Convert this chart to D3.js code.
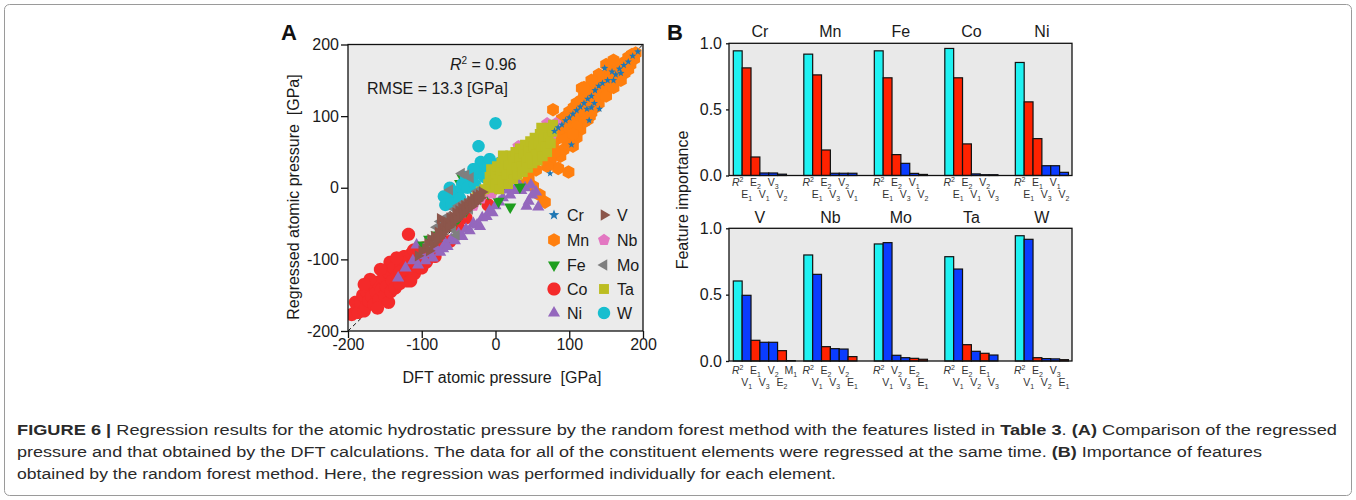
<!DOCTYPE html>
<html><head><meta charset="utf-8">
<script src="https://cdn.jsdelivr.net/npm/d3@7"></script>
<style>
html,body{margin:0;padding:0;background:#fff;}
svg{display:block;font-family:"Liberation Sans",Arial,Helvetica,sans-serif;}
</style></head>
<body>
<svg id="fig" width="1356" height="500"></svg>
<script>
// ---------------- Panel A data: [DFT pressure, regressed pressure] (GPa) -------------
const elementsA = ["Cr","Mn","Fe","Co","Ni","V","Nb","Mo","Ta","W"];
const ptsCo = [[-195,-177],[-190,-160],[-188,-170],[-186,-174],[-183,-160],[-180,-150],[-178,-172],[-176,-166],[-175,-145],[-172,-158],[-170,-140],[-168,-152],[-165,-163],[-162,-146],[-160,-132],[-158,-156],[-155,-142],[-152,-126],[-150,-150],[-148,-138],[-146,-118],[-145,-160],[-143,-104],[-142,-145],[-140,-130],[-138,-112],[-136,-140],[-133,-122],[-130,-134],[-128,-108],[-126,-126],[-124,-96],[-122,-115],[-120,-130],[-118,-102],[-116,-118],[-114,-92],[-112,-108],[-111,-87],[-110,-120],[-108,-98],[-106,-110],[-104,-88],[-102,-100],[-100,-112],[-98,-84],[-96,-96],[-94,-104],[-93,-101],[-92,-86],[-90,-94],[-88,-80],[-86,-90],[-84,-82],[-82,-96],[-80,-84],[-118,-65],[-170,-128],[-178,-135],[-156,-114],[-134,-98],[-62,-75],[-10,-24],[-40,-42],[-50,-56],[-160,-168],[-130,-118],[-115,-130],[-70,-78]];
const ptsMn = [[190,188],[188,180],[185,186],[183,172],[180,182],[178,168],[176,176],[173,164],[170,172],[168,158],[166,168],[163,154],[160,165],[158,148],[156,160],[153,144],[150,156],[148,140],[146,152],[143,134],[140,148],[138,128],[136,142],[133,124],[130,138],[128,118],[126,132],[123,114],[120,128],[118,106],[116,122],[113,100],[110,118],[108,96],[106,112],[103,88],[100,106],[98,84],[96,100],[93,78],[90,96],[88,72],[86,90],[83,68],[80,86],[78,62],[76,82],[73,58],[70,76],[68,52],[66,70],[63,48],[60,64],[58,44],[56,60],[53,40],[50,54],[48,34],[45,48],[42,30],[40,42],[36,26],[34,36],[78,109],[117,139],[85,27],[99,22],[51,2],[60,-10],[67,-20],[38,4],[45,14],[115,81],[110,70],[105,58],[92,53],[88,44],[75,38],[70,30],[120,92],[128,100],[100,60],[125,95],[135,112],[145,130],[155,140],[165,150],[175,160],[95,68],[80,50],[65,40],[55,25],[150,172],[160,178],[140,158],[130,150],[120,140],[130,105],[140,118],[150,128],[160,140],[170,150],[110,85],[105,75],[180,165]];
const ptsCr = [[193,190],[186,184],[180,176],[174,171],[168,166],[163,158],[158,162],[152,150],[148,167],[145,146],[140,142],[135,136],[130,128],[125,124],[120,118],[115,113],[110,108],[105,103],[100,98],[95,94],[90,88],[85,84],[80,79],[141,110],[134,118],[124,110],[127,94],[103,60],[74,20],[130,112],[170,160],[160,150]];
const ptsFe = [[-48,6],[-45,14],[4,-19],[20,-27],[33,1],[-98,-80],[-90,-72],[-80,-66],[-70,-60],[-60,-50],[-50,-42],[-40,-32],[-30,-22],[-20,-15],[-10,-8],[0,-2],[10,4],[-86,-72],[-65,-52],[-55,-48]];
const ptsNi = [[-107,-80],[-112,-102],[-105,-108],[-100,-95],[-95,-102],[-90,-92],[-85,-98],[-80,-86],[-75,-90],[-71,-85],[-68,-78],[-65,-82],[-60,-72],[-55,-74],[-50,-64],[-45,-68],[-40,-58],[-35,-60],[-30,-50],[-25,-52],[-21,-54],[-18,-42],[-12,-40],[-8,-32],[-4,-35],[0,-25],[5,-20],[10,-14],[15,-3],[20,-10],[25,-4],[31,6],[35,-4],[40,0],[42,-26],[45,-19],[50,-10],[55,-6],[58,-27],[48,4],[-122,-112],[-132,-126]];
const ptsV = [[-105,-95],[-100,-88],[-95,-85],[-92,-78],[-90,-88],[-88,-72],[-85,-80],[-83,-68],[-80,-75],[-78,-62],[-76,-70],[-75,-43],[-74,-55],[-72,-65],[-70,-50],[-68,-60],[-66,-48],[-64,-55],[-62,-42],[-60,-52],[-58,-40],[-56,-46],[-54,-35],[-52,-44],[-50,-32],[-48,-40],[-46,-28],[-44,-36],[-42,-25],[-40,-32],[-38,-22],[-36,-28],[-34,-18],[-32,-26],[-30,-15],[-28,-22],[-26,-12],[-24,-18],[-22,-10],[-20,-14],[-18,-6]];
const ptsNb = [[-30,-25],[-20,-15],[-10,-5],[0,5],[10,15],[20,25],[30,40],[31,58],[45,55],[55,65],[62,76],[68,81],[72,78],[78,86],[82,90],[75,70],[50,60],[40,48],[25,35],[15,22],[-5,-8],[70,90]];
const ptsMo = [[-46,20],[-34,14],[-40,18],[-75,-47],[-53,-66],[-80,-55],[-70,-45],[-65,-40],[-60,-50],[-55,-30],[-50,-25],[-45,-35],[-40,-20],[-35,-30],[-30,-15],[-62,-3],[-85,-70],[-90,-78],[-58,-58],[-25,-5]];
const ptsTa = [[-10,5],[-8,15],[-6,26],[-5,0],[-3,10],[0,20],[0,5],[2,30],[4,12],[5,-2],[7,22],[8,35],[10,10],[12,28],[13,40],[15,18],[17,5],[18,32],[20,45],[22,22],[24,12],[25,38],[27,50],[28,28],[30,18],[32,42],[33,55],[35,30],[37,22],[38,48],[40,60],[42,36],[44,28],[45,52],[47,65],[48,42],[50,34],[52,58],[53,70],[55,46],[57,38],[58,62],[60,75],[62,52],[64,44],[65,68],[67,80],[68,58],[70,50],[72,72],[73,84],[75,62],[77,78],[78,88],[-20,-5],[-25,-12],[-15,-2],[10,45],[62,84]];
const ptsW = [[0,90],[-23,58],[-16,29],[-20,36],[-25,20],[-30,26],[-10,34],[-5,25],[-35,10],[-40,15],[-45,5],[-50,-5],[-53,-8],[-58,-12],[-62,0],[-65,-18],[-70,-12],[-68,-24],[-60,-22],[-48,-15],[-38,0],[-28,5],[-15,15],[6,35],[33,57],[-8,40],[-3,15]];
const ticksA = [-200,-100,0,100,200];
const statR2 = "0.96", statRMSE = "13.3";

// ---------------- Panel B data: feature importance -------------------
const rowTop = ["Cr","Mn","Fe","Co","Ni"];
const rowBottom = ["V","Nb","Mo","Ta","W"];
const featCr = ["R2","E1","E2","V1","V3","V2"], valCr = [0.943,0.814,0.140,0.019,0.019,0.010];
const featMn = ["R2","E1","E2","V3","V2","V1"], valMn = [0.918,0.761,0.193,0.017,0.017,0.017];
const featFe = ["R2","E1","E2","V3","V1","V2"], valFe = [0.943,0.739,0.158,0.092,0.016,0.008];
const featCo = ["R2","E1","E2","V1","V2","V3"], valCo = [0.961,0.739,0.239,0.012,0.006,0.006];
const featNi = ["R2","E1","E1","V3","V1","V2"], valNi = [0.855,0.557,0.279,0.074,0.074,0.024];
const featV  = ["R2","V1","E1","V3","V2","E2","M1"], valV = [0.603,0.495,0.156,0.141,0.141,0.078,0.003];
const featNb = ["R2","V1","E2","V3","V2","E1"], valNb = [0.799,0.653,0.108,0.093,0.090,0.033];
const featMo = ["R2","V1","V2","V3","E2","E1"], valMo = [0.882,0.892,0.043,0.025,0.020,0.013];
const featTa = ["R2","V1","E2","V2","E1","V3"], valTa = [0.786,0.693,0.123,0.073,0.058,0.045];
const featW  = ["R2","V1","E2","V2","V3","E1"], valW = [0.944,0.917,0.025,0.018,0.016,0.010];
const ticksB = [0,0.5,1.0];

// ---------------- helpers --------------------------------------------
const svg = d3.select("#fig");
const TXT = "#1a1a1a";

svg.append("rect").attr("x",4.5).attr("y",4.5).attr("width",1347).attr("height",491)
  .attr("rx",5).attr("fill","none").attr("stroke","#9a9a9a").attr("stroke-width",1);

function polyPath(n, r, rot){
  const p = d3.path();
  for(let i=0;i<n;i++){
    const a = rot + i*2*Math.PI/n;
    const x = r*Math.cos(a), y = r*Math.sin(a);
    if(i===0) p.moveTo(x,y); else p.lineTo(x,y);
  }
  p.closePath(); return p.toString();
}
function starPath(r){
  const p = d3.path(); const ri = r*0.42;
  for(let i=0;i<10;i++){
    const rr = i%2===0 ? r : ri;
    const a = -Math.PI/2 + i*Math.PI/5;
    const x = rr*Math.cos(a), y = rr*Math.sin(a);
    if(i===0) p.moveTo(x,y); else p.lineTo(x,y);
  }
  p.closePath(); return p.toString();
}
const style = {
  Cr:{color:"#1f77b4", path:r=>starPath(r), r:5.6},
  Mn:{color:"#ff7f0e", path:r=>polyPath(6,r,Math.PI/6), r:6.8},
  Fe:{color:"#1e9e1e", path:r=>polyPath(3,r,Math.PI/2), r:7},
  Co:{color:"#f42a2a", path:r=>polyPath(40,r,0), r:6.6},
  Ni:{color:"#9467bd", path:r=>polyPath(3,r,-Math.PI/2), r:7},
  V: {color:"#8c564b", path:r=>polyPath(3,r,0), r:6.5},
  Nb:{color:"#e377c2", path:r=>polyPath(5,r,-Math.PI/2), r:6.3},
  Mo:{color:"#7f7f7f", path:r=>polyPath(3,r,Math.PI), r:6.5},
  Ta:{color:"#bcbd22", path:r=>polyPath(4,r,Math.PI/4), r:7},
  W: {color:"#17becf", path:r=>polyPath(40,r,0), r:6.2}
};
const ptsByEl = {Cr:ptsCr,Mn:ptsMn,Fe:ptsFe,Co:ptsCo,Ni:ptsNi,V:ptsV,Nb:ptsNb,Mo:ptsMo,Ta:ptsTa,W:ptsW};

// ---------------- Panel A ---------------------------------------------
const xA = d3.scaleLinear().domain([-200,200]).range([348,643]);
const yA = d3.scaleLinear().domain([-200,200]).range([331,44.5]);
const gA = svg.append("g");
gA.append("rect").attr("x",xA(-200)).attr("y",yA(200)).attr("width",xA(200)-xA(-200))
  .attr("height",yA(-200)-yA(200)).attr("fill","#ebebeb");
gA.append("line").attr("x1",xA(-200)).attr("y1",yA(-200)).attr("x2",xA(200)).attr("y2",yA(200))
  .attr("stroke","#111").attr("stroke-width",1).attr("stroke-dasharray","4,3");

const drawOrder = ["Co","Mn","Ni","Fe","W","Nb","Ta","Mo","V","Cr"];
svg.append("clipPath").attr("id","clipA").append("rect")
  .attr("x",xA(-200)).attr("y",yA(200)).attr("width",xA(200)-xA(-200)).attr("height",yA(-200)-yA(200));
const gPts = gA.append("g").attr("clip-path","url(#clipA)");
drawOrder.forEach(el=>{
  const s = style[el];
  const rr = el==="Cr" ? 3.8 : s.r;
  gPts.selectAll(null).data(ptsByEl[el]).enter().append("path")
    .attr("d", s.path(rr))
    .attr("transform", d=>`translate(${xA(d[0])},${yA(d[1])})`)
    .attr("fill", s.color);
});
gA.append("rect").attr("x",xA(-200)).attr("y",yA(200)).attr("width",xA(200)-xA(-200))
  .attr("height",yA(-200)-yA(200)).attr("fill","none").attr("stroke","#111").attr("stroke-width",1.3);

const axXA = gA.append("g").attr("transform",`translate(0,${yA(-200)})`)
  .call(d3.axisBottom(xA).tickValues(ticksA).tickSize(7).tickPadding(1).tickFormat(d3.format("d")));
const axYA = gA.append("g").attr("transform",`translate(${xA(-200)},0)`)
  .call(d3.axisLeft(yA).tickValues(ticksA).tickSize(7).tickPadding(2).tickFormat(d3.format("d")));
[axXA,axYA].forEach(a=>{
  a.select(".domain").remove();
  a.selectAll(".tick line").attr("stroke","#111").attr("stroke-width",1.3);
  a.selectAll(".tick text").attr("font-size",16).attr("fill",TXT)
   .attr("font-family","'Liberation Sans',Arial,sans-serif").text(d=>d<0?"-"+Math.abs(d):d);
});
gA.append("text").attr("x",502).attr("y",383).attr("text-anchor","middle").attr("font-size",16)
  .attr("fill",TXT).attr("xml:space","preserve").text("DFT atomic pressure  [GPa]");
gA.append("text").attr("transform","translate(299,197) rotate(-90)").attr("text-anchor","middle")
  .attr("font-size",16).attr("fill",TXT).attr("xml:space","preserve").text("Regressed atomic pressure  [GPa]");
const r2 = gA.append("text").attr("x",450).attr("y",69.5).attr("font-size",16).attr("fill",TXT);
r2.append("tspan").attr("font-style","italic").text("R");
r2.append("tspan").attr("font-size",10).attr("dy",-6).text("2");
r2.append("tspan").attr("dy",6).text(" = " + statR2);
gA.append("text").attr("x",367).attr("y",94).attr("font-size",16).attr("fill",TXT)
  .text("RMSE = " + statRMSE + " [GPa]");
svg.append("text").attr("x",281).attr("y",40).attr("font-size",22).attr("font-weight","bold")
  .attr("fill","#111").text("A");

const legRows = [215,240,265,289,313];
elementsA.forEach((el,i)=>{
  const col = Math.floor(i/5), row = i%5;
  const mx = col===0 ? 554 : 604, tx = col===0 ? 567 : 617;
  const s = style[el];
  gA.append("path").attr("d", s.path(s.r)).attr("transform",`translate(${mx},${legRows[row]})`)
    .attr("fill",s.color);
  gA.append("text").attr("x",tx).attr("y",legRows[row]+6).attr("font-size",16).attr("fill",TXT).text(el);
});

// ---------------- Panel B ---------------------------------------------
const featByEl = {Cr:featCr,Mn:featMn,Fe:featFe,Co:featCo,Ni:featNi,V:featV,Nb:featNb,Mo:featMo,Ta:featTa,W:featW};
const valByEl = {Cr:valCr,Mn:valMn,Fe:valFe,Co:valCo,Ni:valNi,V:valV,Nb:valNb,Mo:valMo,Ta:valTa,W:valW};
const barColor = f => f[0]==="R" ? "#1ff2f2" : f[0]==="E" ? "#ff2200" : f[0]==="V" ? "#0a3cff" : "#888";
const xInner = d3.scaleBand().domain(d3.range(7)).range([0,62]);

function drawRow(row, top, bottom, titleY, lab1Y, lab2Y){
  const xG = d3.scaleBand().domain(row).range([729,1072]).paddingInner(0.257).paddingOuter(0.061);
  const y = d3.scaleLinear().domain([0,1]).range([bottom,top]);
  const g = svg.append("g");
  g.append("rect").attr("x",729).attr("y",top).attr("width",1072-729).attr("height",bottom-top)
    .attr("fill","#e9e9e9");
  row.forEach(el=>{
    const feats = featByEl[el], vals = valByEl[el];
    const x0 = xG(el);
    g.selectAll(null).data(vals).enter().append("rect")
      .attr("x",(d,i)=>x0+xInner(i)).attr("y",d=>y(d))
      .attr("width",xInner.bandwidth()).attr("height",d=>y(0)-y(d))
      .attr("fill",(d,i)=>barColor(feats[i])).attr("stroke","#111").attr("stroke-width",1.2);
    g.append("text").attr("x",x0+xInner.bandwidth()*3).attr("y",titleY).attr("text-anchor","middle")
      .attr("font-size",16).attr("fill",TXT).text(el);
    feats.forEach((f,i)=>{
      const t = g.append("text").attr("x",x0+xInner(i)+xInner.bandwidth()/2)
        .attr("y", i%2===0 ? lab1Y : lab2Y).attr("text-anchor","middle")
        .attr("font-size",10.5).attr("fill","#333");
      if(f==="R2"){
        t.append("tspan").attr("font-style","italic").text("R");
        t.append("tspan").attr("font-size",7).attr("dy",-4).text("2");
      } else {
        t.append("tspan").text(f[0]);
        t.append("tspan").attr("font-size",7).attr("dy",3).text(f.slice(1));
      }
    });
  });
  g.append("rect").attr("x",729).attr("y",top).attr("width",1072-729).attr("height",bottom-top)
    .attr("fill","none").attr("stroke","#111").attr("stroke-width",1.3);
  const ax = g.append("g").attr("transform","translate(729,0)")
    .call(d3.axisLeft(y).tickValues(ticksB).tickSize(3).tickPadding(4).tickFormat(d3.format(".1f")));
  ax.select(".domain").remove();
  ax.selectAll(".tick line").attr("stroke","#111").attr("stroke-width",1.3);
  ax.selectAll(".tick text").attr("font-size",16).attr("fill",TXT)
    .attr("font-family","'Liberation Sans',Arial,sans-serif");
}
drawRow(rowTop, 43.3, 175.5, 37, 186, 198);
drawRow(rowBottom, 228.3, 361, 223, 373.5, 385.5);
svg.append("text").attr("transform","translate(688,200) rotate(-90)").attr("text-anchor","middle")
  .attr("font-size",16).attr("fill",TXT).text("Feature importance");
svg.append("text").attr("x",667).attr("y",40).attr("font-size",22).attr("font-weight","bold")
  .attr("fill","#111").text("B");

// ---------------- Caption ----------------------------------------------
const capLines = [
  [["FIGURE 6 | ",1],["Regression results for the atomic hydrostatic pressure by the random forest method with the features listed in ",0],["Table 3",1],[". ",0],["(A)",1],[" Comparison of the regressed",0]],
  [["pressure and that obtained by the DFT calculations. The data for all of the constituent elements were regressed at the same time. ",0],["(B)",1],[" Importance of features",0]],
  [["obtained by the random forest method. Here, the regression was performed individually for each element.",0]]
];
const capWidths = [1320, 1245, 819];
capLines.forEach((ln,i)=>{
  const t = svg.append("text").attr("x",17).attr("y",435+i*22).attr("font-size",15.5).attr("fill","#2a2a2a")
    .attr("xml:space","preserve").attr("textLength",capWidths[i]).attr("lengthAdjust","spacingAndGlyphs");
  ln.forEach(([s,b])=>t.append("tspan").attr("font-weight",b?"bold":"normal").text(s));
});
</script>
</body></html>
